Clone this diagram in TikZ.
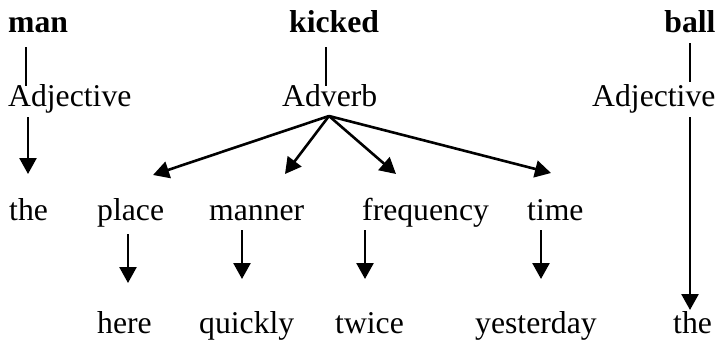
\documentclass[tikz,border=0pt]{standalone}
\usepackage{fontspec}
\setmainfont{Liberation Serif}
\usetikzlibrary{arrows.meta}
\begin{document}
\begin{tikzpicture}[x=1pt,y=-1pt,
  word/.style={anchor=base west, inner sep=0pt, font=\fontsize{31.7}{38}\selectfont},
  head/.style={word, font=\fontsize{31.7}{38}\selectfont\bfseries},
  link/.style={line width=1.1pt},
  arr/.style={line width=2.6pt, -{Triangle[length=16pt,width=17pt]}}]
\useasboundingbox (0,0) rectangle (720,340);

% head words
\node[head] (man) at (8,32) {man};
\node[head] (kicked) at (289,32) {kicked};
\node[head, anchor=base] (ball) at (690,32) {ball};

% word classes
\node[word] (adjL) at (8,106) {Adjective};
\node[word] (adverb) at (282,106) {Adverb};
\node[word] (adjR) at (592,106) {Adjective};

% categories
\node[word] (the1) at (9,220) {the};
\node[word] (place) at (97,220) {place};
\node[word] (manner) at (209,220) {manner};
\node[word] (frequency) at (362,220) {frequency};
\node[word] (time) at (527,220) {time};

% examples
\node[word] (here) at (97,333) {here};
\node[word] (quickly) at (199,333) {quickly};
\node[word] (twice) at (335,333) {twice};
\node[word] (yesterday) at (475,333) {yesterday};
\node[word] (the2) at (673,333) {the};

% plain links
\draw[link] ([shift={(18,15)}]man.base west) -- ([shift={(18,-20)}]adjL.base west);
\draw[link] ([shift={(37,15)}]kicked.base west) -- ([shift={(44,-20)}]adverb.base west);
\draw[link] ([shift={(0,11)}]ball.base) -- ([shift={(98,-24)}]adjR.base west);

% arrows
\draw[arr] ([shift={(20,11)}]adjL.base west) -- ([shift={(19,-46)}]the1.base west);
\coordinate (fan) at ([shift={(47,10)}]adverb.base west);
\draw[arr] (fan) -- ([shift={(56,-45)}]place.base west);
\draw[arr] (fan) -- ([shift={(76,-46)}]manner.base west);
\draw[arr] (fan) -- ([shift={(34,-46)}]frequency.base west);
\draw[arr] (fan) -- ([shift={(24,-47)}]time.base west);
\draw[arr] ([shift={(31,14)}]place.base west) -- ([shift={(31,-50)}]here.base west);
\draw[arr] ([shift={(33,10)}]manner.base west) -- ([shift={(43,-54)}]quickly.base west);
\draw[arr] ([shift={(3,10)}]frequency.base west) -- ([shift={(30,-54)}]twice.base west);
\draw[arr] ([shift={(14,10)}]time.base west) -- ([shift={(66,-54)}]yesterday.base west);
\draw[arr] ([shift={(98,11)}]adjR.base west) -- ([shift={(17,-23)}]the2.base west);
\end{tikzpicture}
\end{document}
